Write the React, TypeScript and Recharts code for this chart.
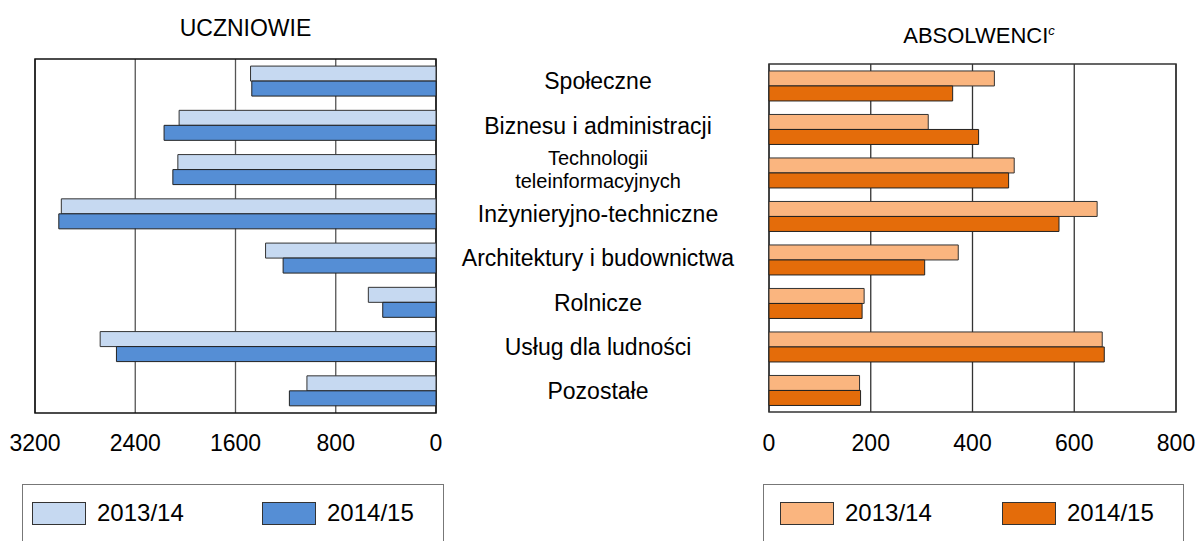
import React from 'react';
import { BarChart, Bar, XAxis, YAxis, CartesianGrid, ReferenceArea } from 'recharts';

const categories = [
  'Społeczne',
  'Biznesu i administracji',
  'Technologii\nteleinformacyjnych',
  'Inżynieryjno-techniczne',
  'Architektury i budownictwa',
  'Rolnicze',
  'Usług dla ludności',
  'Pozostałe',
];
const seriesNames = ['2013/14', '2014/15'];

const students1314 = [1480, 2050, 2060, 2990, 1360, 540, 2680, 1030];
const students1415 = [1470, 2170, 2100, 3010, 1220, 425, 2550, 1170];
const graduates1314 = [443, 313, 482, 645, 372, 187, 655, 178];
const graduates1415 = [361, 412, 471, 570, 306, 183, 659, 180];

const studentTicks = [0, 800, 1600, 2400, 3200];
const graduateTicks = [0, 200, 400, 600, 800];

const studentData = categories.map((c, i) => ({ name: c, a: students1314[i], b: students1415[i] }));
const graduateData = categories.map((c, i) => ({ name: c, a: graduates1314[i], b: graduates1415[i] }));

const FONT = 'Liberation Sans, Arial, sans-serif';
const blue = ['#C6D9F1', '#558ED5'];
const orange = ['#FAB57F', '#E46C0A'];

const CatTick = (props: any) => {
  const { x, y, payload } = props;
  const lines = String(payload.value).split('\n');
  const cx = x + 162;
  const lh = 23;
  const start = y - ((lines.length - 1) * lh) / 2;
  return (
    <text x={cx} y={start} textAnchor="middle" fontSize={lines.length > 1 ? 20 : 23} fontFamily={FONT} fill="#000">
      {lines.map((l, i) => (
        <tspan key={i} x={cx} dy={i === 0 ? '0.36em' : lh}>{l}</tspan>
      ))}
    </text>
  );
};

const LegendBox = ({ colors, left, width, inset, gap }: { colors: string[]; left: number; width: number; inset: number; gap: number }) => (
  <div style={{ position: 'absolute', left, top: 484, width, height: 70, border: '1px solid #777', boxSizing: 'border-box', fontFamily: FONT, fontSize: 24 }}>
    {seriesNames.map((s, i) => (
      <div key={s} style={{ position: 'absolute', left: inset + i * gap, top: 16, display: 'flex', alignItems: 'center' }}>
        <div style={{ width: 54, height: 23, background: colors[i], border: '1px solid #333', boxSizing: 'border-box' }} />
        <span style={{ marginLeft: 11, lineHeight: '24px' }}>{s}</span>
      </div>
    ))}
  </div>
);

export default function App() {
  return (
    <div style={{ position: 'absolute', left: 0, top: 0, width: 1196, height: 541, background: '#fff', overflow: 'hidden', fontFamily: FONT }}>
      <div style={{ position: 'absolute', left: 35, width: 421, top: 17, textAlign: 'center', fontSize: 23, lineHeight: 1 }}>UCZNIOWIE</div>
      <div style={{ position: 'absolute', left: 769, width: 420, top: 24, textAlign: 'center', fontSize: 22, lineHeight: 1 }}>
        ABSOLWENCI<sup style={{ fontStyle: 'italic', fontSize: 13, verticalAlign: 8 }}>c</sup>
      </div>

      <div style={{ position: 'absolute', left: 0, top: 0 }}>
        <BarChart width={769} height={470} data={studentData} layout="vertical" barCategoryGap="16%" barGap={0}
          margin={{ top: 59, left: 35, right: 0, bottom: 27 }}>
          <CartesianGrid horizontal={false} stroke="#555" strokeWidth={1.3} />
          <XAxis type="number" domain={[0, 3200]} ticks={studentTicks} reversed axisLine={false} tickLine={false}
            tickSize={0} tickMargin={22} height={30} interval={0}
            tick={{ fontSize: 23, fill: '#000', fontFamily: FONT }} />
          <YAxis type="category" dataKey="name" orientation="right" width={333} axisLine={false} tickLine={false}
            tickSize={0} tickMargin={0} interval={0} tick={<CatTick />} />
          <Bar dataKey="a" name={seriesNames[0]} fill={blue[0]} stroke="#333" strokeWidth={1} isAnimationActive={false} />
          <Bar dataKey="b" name={seriesNames[1]} fill={blue[1]} stroke="#222" strokeWidth={1} isAnimationActive={false} />
          <ReferenceArea x1={0} x2={3200} fill="none" fillOpacity={0} stroke="#111" strokeWidth={1.5} ifOverflow="visible" />
        </BarChart>
      </div>

      <div style={{ position: 'absolute', left: 740, top: 0 }}>
        <BarChart width={456} height={470} data={graduateData} layout="vertical" barCategoryGap="16%" barGap={0}
          margin={{ top: 64, left: 29, right: 20, bottom: 28 }}>
          <CartesianGrid horizontal={false} stroke="#333" strokeWidth={1.3} />
          <XAxis type="number" domain={[0, 800]} ticks={graduateTicks} axisLine={false} tickLine={false}
            tickSize={0} tickMargin={23} height={30} interval={0}
            tick={{ fontSize: 23, fill: '#000', fontFamily: FONT }} />
          <YAxis type="category" dataKey="name" hide />
          <Bar dataKey="a" name={seriesNames[0]} fill={orange[0]} stroke="#333" strokeWidth={1} isAnimationActive={false} />
          <Bar dataKey="b" name={seriesNames[1]} fill={orange[1]} stroke="#222" strokeWidth={1} isAnimationActive={false} />
          <ReferenceArea x1={0} x2={800} fill="none" fillOpacity={0} stroke="#333" strokeWidth={1.5} ifOverflow="visible" />
        </BarChart>
      </div>

      <LegendBox colors={blue} left={22} width={422} inset={9} gap={230} />
      <LegendBox colors={orange} left={763} width={421} inset={16} gap={222} />
    </div>
  );
}
